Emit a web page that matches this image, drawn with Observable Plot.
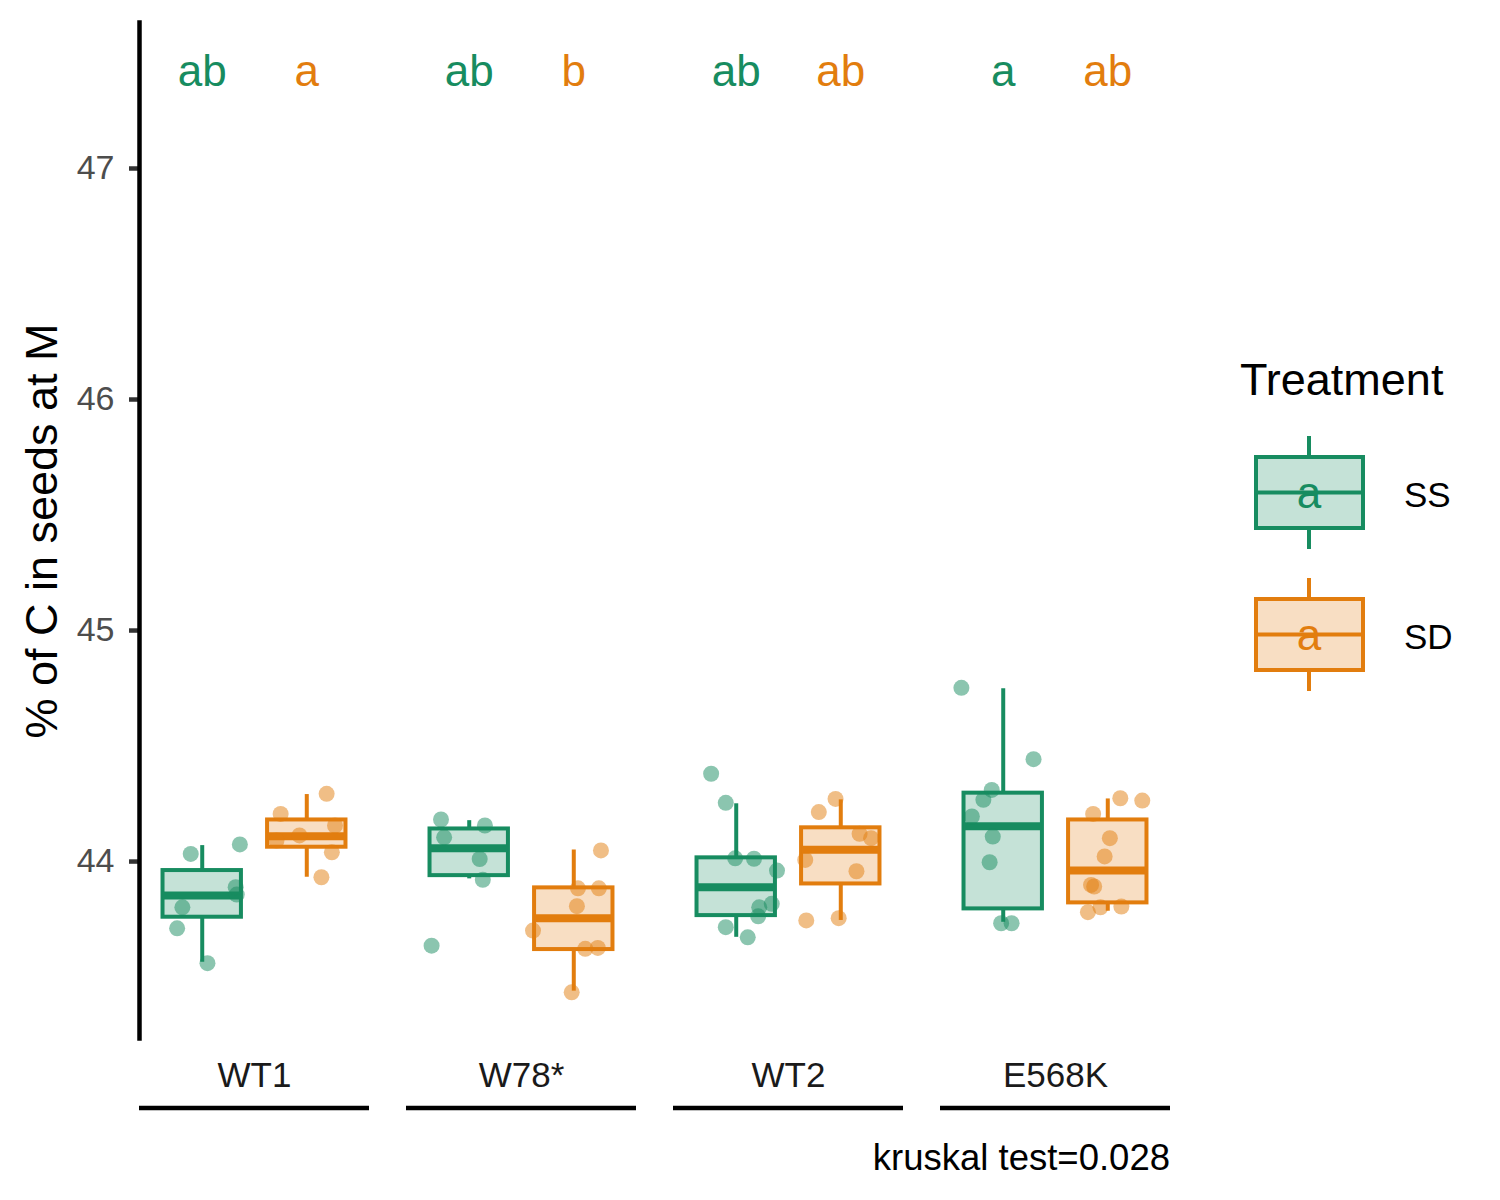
<!DOCTYPE html>
<html><head><meta charset="utf-8">
<script src="https://cdn.jsdelivr.net/npm/d3@7"></script>
<script src="https://cdn.jsdelivr.net/npm/@observablehq/plot@0.6"></script>
<style>body{margin:0;background:#fff;} svg{font-family:"Liberation Sans",Arial,sans-serif;}</style>
</head><body><div id="chart"></div>
<script>
// ---- data ----
const groups = ["WT1", "W78*", "WT2", "E568K"];
const treatments = ["SS", "SD"];
const treatmentColors = ["#178C60", "#E27D0E"];
const yTicks = [44, 45, 46, 47];
const yDomain = [43.234, 47.632];
const xDomain = [0.4, 2.6];

const boxGroup     = ["WT1", "WT1", "W78*", "W78*", "WT2", "WT2", "E568K", "E568K"];
const boxTreatment = ["SS", "SD", "SS", "SD", "SS", "SD", "SS", "SD"];
const boxLower  = [43.564, 43.932, 43.925, 43.439, 43.672, 43.745, 43.737, 43.785];
const boxQ1     = [43.759, 44.062, 43.939, 43.619, 43.766, 43.903, 43.795, 43.821];
const boxMedian = [43.853, 44.110, 44.058, 43.755, 43.889, 44.051, 44.153, 43.961];
const boxQ3     = [43.961, 44.180, 44.141, 43.886, 44.016, 44.146, 44.296, 44.180];
const boxUpper  = [44.069, 44.290, 44.177, 44.050, 44.250, 44.267, 44.748, 44.271];
const letterLabels = ["ab", "a", "ab", "b", "ab", "ab", "a", "ab"];
const letterY = 47.42;

const pointValues = [
  [44.033, 44.074, 43.889, 43.857, 43.802, 43.711, 43.560],
  [44.293, 44.206, 44.156, 44.113, 44.091, 44.040, 43.932],
  [44.182, 44.156, 44.105, 44.011, 43.921, 43.636],
  [44.048, 43.884, 43.884, 43.807, 43.701, 43.622, 43.626, 43.434],
  [44.380, 44.254, 44.014, 44.012, 43.961, 43.802, 43.817, 43.763, 43.716, 43.672],
  [44.271, 44.214, 44.120, 44.101, 44.007, 43.958, 43.745, 43.755],
  [44.752, 44.443, 44.310, 44.267, 44.195, 44.108, 43.997, 43.733, 43.733],
  [44.274, 44.264, 44.206, 44.101, 44.022, 43.899, 43.892, 43.781, 43.802, 43.805]
];
const pointJitter = [
  [-0.11, 0.36, 0.32, 0.33, -0.19, -0.24, 0.05],
  [0.19, -0.25, 0.27, -0.07, -0.29, 0.24, 0.14],
  [-0.27, 0.15, -0.24, 0.10, 0.13, -0.36],
  [0.26, 0.04, 0.24, 0.03, -0.39, 0.11, 0.23, -0.02],
  [-0.24, -0.10, -0.01, 0.17, 0.39, 0.22, 0.34, 0.21, -0.10, 0.11],
  [-0.05, -0.21, 0.18, 0.29, -0.34, 0.15, -0.33, -0.02],
  [-0.40, 0.29, -0.11, -0.19, -0.30, -0.10, -0.13, -0.02, 0.08],
  [0.12, 0.33, -0.14, 0.02, -0.03, -0.16, -0.13, -0.19, -0.07, 0.13]
];
const yTitle = "% of C in seeds at M";
const legendTitle = "Treatment";
const legendKeyLetter = "a";
const captionText = "kruskal test=0.028";

// ---- derived tables ----
const halfWidth = 0.375;
const boxes = boxGroup.map((g, i) => ({
  group: g, treatment: boxTreatment[i], xi: treatments.indexOf(boxTreatment[i]) + 1,
  lower: boxLower[i], q1: boxQ1[i], median: boxMedian[i], q3: boxQ3[i], upper: boxUpper[i],
  letter: letterLabels[i]
}));
const points = pointValues.flatMap((vals, i) => vals.map((v, j) => ({
  group: boxGroup[i], treatment: boxTreatment[i], x: boxes[i].xi + pointJitter[i][j], value: v
})));

const W = 1500, H = 1200;
const chart = Plot.plot({
  width: W, height: H,
  marginTop: 22, marginBottom: 162, marginLeft: 139, marginRight: 330,
  style: {fontFamily: "'Liberation Sans', Arial, sans-serif", background: "white", fontSize: "34px"},
  fx: {domain: groups, paddingInner: 37 / 267, paddingOuter: 0, label: null},
  x: {domain: xDomain, axis: null},
  y: {domain: yDomain, axis: null},
  color: {domain: treatments, range: treatmentColors},
  marks: [
    Plot.axisY({ticks: yTicks, tickSize: 10, text: null, stroke: "#333", strokeWidth: 4.5, label: null}),
    Plot.frame({anchor: "left", facetAnchor: "left", stroke: "black", strokeWidth: 4.5}),
    Plot.axisY({ticks: yTicks, tickSize: 0, tickPadding: 25, tickFormat: d => String(d),
      fill: "#4d4d4d", fontSize: 34, label: null}),
    Plot.axisFx({anchor: "bottom", tickSize: 0, tickPadding: 24, fontSize: 35, fill: "#1a1a1a", label: null}),
    Plot.ruleX(boxes, {fx: "group", x: "xi", y1: "lower", y2: "q1", stroke: "treatment", strokeWidth: 4}),
    Plot.ruleX(boxes, {fx: "group", x: "xi", y1: "q3", y2: "upper", stroke: "treatment", strokeWidth: 4}),
    Plot.rect(boxes, {fx: "group", x1: d => d.xi - halfWidth, x2: d => d.xi + halfWidth, y1: "q1", y2: "q3",
      fill: "treatment", fillOpacity: 0.25, stroke: "treatment", strokeWidth: 4, strokeLinejoin: "miter"}),
    Plot.ruleY(boxes, {fx: "group", x1: d => d.xi - halfWidth, x2: d => d.xi + halfWidth, y: "median",
      stroke: "treatment", strokeWidth: 8}),
    Plot.dot(points, {fx: "group", x: "x", y: "value", r: 8, fill: "treatment", fillOpacity: 0.5}),
    Plot.text(boxes, {fx: "group", x: "xi", y: () => letterY, text: "letter", fill: "treatment", fontSize: 44})
  ]
});

const svg = d3.select(chart);
const fx = chart.scale("fx");
const color = chart.scale("color");
const font = "'Liberation Sans', Arial, sans-serif";

// group underlines
groups.forEach(g => {
  const x0 = fx.apply(g);
  svg.append("line").attr("x1", x0).attr("x2", x0 + fx.bandwidth)
    .attr("y1", 1108).attr("y2", 1108).attr("stroke", "black").attr("stroke-width", 4.5);
});

// y title
svg.append("text").attr("transform", "translate(57,531) rotate(-90)")
  .attr("text-anchor", "middle").attr("font-size", 45).attr("fill", "black")
  .attr("font-family", font).text(yTitle);

// caption
svg.append("text").attr("x", fx.apply(groups[groups.length - 1]) + fx.bandwidth).attr("y", 1170)
  .attr("text-anchor", "end").attr("font-size", 36.5).attr("fill", "black")
  .attr("font-family", font).text(captionText);

// legend
const lg = svg.append("g").attr("font-family", font).attr("text-anchor", "start");
lg.append("text").attr("x", 1240).attr("y", 395).attr("font-size", 45).attr("fill", "black").text(legendTitle);
treatments.forEach((t, i) => {
  const c = color.apply(t);
  const top = 457 + i * 142, bot = top + 71, mid = (top + bot) / 2;
  const k = lg.append("g");
  k.append("line").attr("x1", 1309).attr("x2", 1309).attr("y1", top - 21).attr("y2", bot + 21)
    .attr("stroke", c).attr("stroke-width", 4);
  k.append("rect").attr("x", 1256).attr("y", top).attr("width", 107).attr("height", bot - top)
    .attr("fill", "white").attr("stroke", "none");
  k.append("rect").attr("x", 1256).attr("y", top).attr("width", 107).attr("height", bot - top)
    .attr("fill", c).attr("fill-opacity", 0.25).attr("stroke", c).attr("stroke-width", 4);
  k.append("line").attr("x1", 1256).attr("x2", 1363).attr("y1", mid).attr("y2", mid)
    .attr("stroke", c).attr("stroke-width", 4);
  k.append("text").attr("x", 1309).attr("y", mid + 15).attr("text-anchor", "middle")
    .attr("font-size", 44).attr("fill", c).text(legendKeyLetter);
  k.append("text").attr("x", 1404).attr("y", mid + 14).attr("font-size", 35).attr("fill", "black").text(t);
});

document.getElementById("chart").appendChild(chart);
</script>
</body></html>
